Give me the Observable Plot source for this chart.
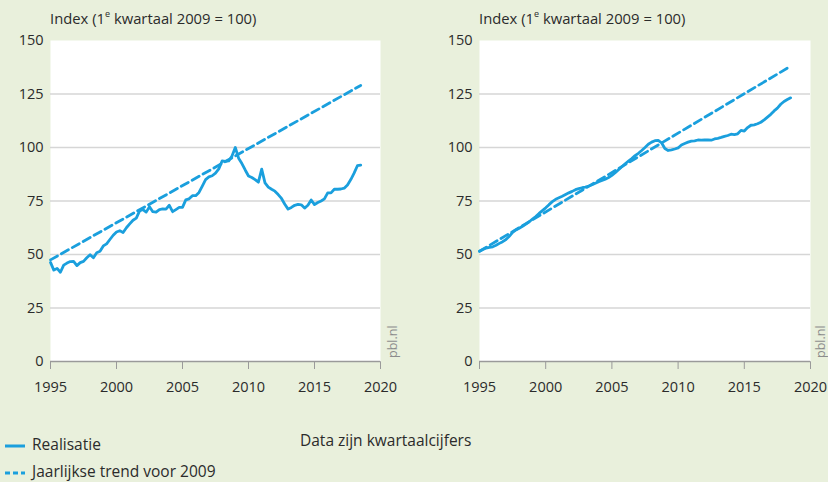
<!DOCTYPE html>
<html>
<head>
<meta charset="utf-8">
<script src="https://cdn.jsdelivr.net/npm/d3@7"></script>
<script src="https://cdn.jsdelivr.net/npm/@observablehq/plot@0.6"></script>
<style>
  html, body { margin: 0; padding: 0; }
  body { width: 828px; height: 482px; background: #e9f0dc; position: relative; overflow: hidden;
         font-family: "Open Sans", sans-serif; color: #2b2b2b; }
  .abs { position: absolute; white-space: nowrap; }
  .title { font-size: 14.8px; top: 7px; line-height: 22px; }
  .title sup { font-size: 9px; vertical-align: 7px; line-height: 0; }
  .pbl { font-size: 12.5px; color: #8c8c8c; transform-origin: left top; transform: rotate(-90deg); line-height: 14px; }
  .leg { font-size: 15.5px; line-height: 20px; }
  svg [aria-label^="x-axis"] path, svg [aria-label^="x-axis"] line { stroke: #9a9a9a; }
</style>
</head>
<body>
<div id="left" class="abs" style="left:0px; top:30px;"></div>
<div id="right" class="abs" style="left:414px; top:30px;"></div>

<div class="abs title" style="left:50px;">Index (1<sup>e</sup> kwartaal 2009 = 100)</div>
<div class="abs title" style="left:479px;">Index (1<sup>e</sup> kwartaal 2009 = 100)</div>
<div class="abs pbl" style="left:386px; top:358px;">pbl.nl</div>
<div class="abs pbl" style="left:814px; top:358px;">pbl.nl</div>

<svg class="abs" style="left:4px; top:440px;" width="24" height="40">
  <line x1="1" x2="21" y1="6" y2="6" stroke="#1a9fdd" stroke-width="3"></line>
  <line x1="1" x2="21" y1="33" y2="33" stroke="#1a9fdd" stroke-width="3" stroke-dasharray="5,3"></line>
</svg>
<div class="abs leg" style="left:32px; top:434px;">Realisatie</div>
<div class="abs leg" style="left:32px; top:461px;">Jaarlijkse trend voor 2009</div>
<div class="abs leg" style="left:300px; top:430px;">Data zijn kwartaalcijfers</div>

<script>
// Quarterly data, 1995 Q1 .. 2018 Q3 (95 quarters)
const startYear = 1995;
const realisatieLeft = [
  46.3, 42.7, 43.5, 41.7, 45.0, 46.0, 46.7, 46.8, 44.8, 46.2,
  46.8, 48.5, 49.9, 48.5, 50.8, 51.5, 54.0, 55.0, 57.0, 59.0,
  60.5, 61.1, 60.3, 62.5, 64.3, 66.0, 67.0, 70.4, 71.0, 69.8,
  72.3, 70.0, 69.8, 71.0, 71.3, 71.2, 73.0, 70.0, 71.0, 72.0,
  72.0, 75.5, 76.0, 77.5, 77.5, 79.0, 82.0, 85.0, 86.3, 86.8,
  88.0, 90.0, 93.7, 93.5, 93.7, 96.0, 100.0, 95.0, 92.5, 89.5,
  86.7, 86.0, 85.0, 83.8, 89.9, 83.5, 81.5, 80.5, 79.6, 78.0,
  76.2, 73.5, 71.2, 72.0, 73.0, 73.4, 73.2, 71.7, 73.0, 75.5,
  73.3, 74.3, 75.0, 76.0, 78.8, 78.8, 80.5, 80.5, 80.6, 81.0,
  82.5, 85.0, 88.0, 91.5, 91.8
];
const realisatieRight = [
  51.5, 52.3, 53.0, 53.3, 53.6, 54.3, 55.2, 56.0, 57.0, 58.5,
  60.3, 61.5, 62.3, 63.2, 64.2, 65.3, 66.5, 67.7, 69.2, 70.5,
  71.8, 73.3, 74.7, 75.8, 76.5, 77.2, 78.0, 78.8, 79.5, 80.3,
  80.8, 81.2, 81.5, 82.0, 82.6, 83.3, 84.0, 84.6, 85.2, 86.0,
  87.0, 88.2, 89.6, 91.0, 92.4, 93.6, 94.8, 96.2, 97.3, 98.6,
  100.0, 101.5, 102.5, 103.2, 103.3, 102.2, 99.5, 98.6, 98.9, 99.3,
  99.8, 101.2, 101.9, 102.5, 103.0, 103.1, 103.5, 103.4, 103.5, 103.6,
  103.4, 104.0, 104.3, 104.7, 105.2, 105.6, 106.2, 106.0, 106.4, 108.0,
  107.7, 109.3, 110.4, 110.6, 111.1, 111.8, 112.9, 114.2, 115.5, 117.1,
  118.4, 120.2, 121.5, 122.4, 123.2
];
// Trend lines (straight), start and end
const trendYears = [1995, 2018.5];
const trendLeft = [47.5, 129];
const trendRight = [51.5, 138];

const xTicks = [1995, 2000, 2005, 2010, 2015, 2020];
const yTicks = [0, 25, 50, 75, 100, 125, 150];
const gridValues = [25, 50, 75, 100, 125];

const blue = "#1a9fdd";

function chart(values, trend, marginLeft, marginRight) {
  const series = values.map((v, i) => ({t: startYear + i / 4, v}));
  const tr = trendYears.map((t, i) => ({t, v: trend[i]}));
  return Plot.plot({
    width: 414,
    height: 370,
    marginLeft, marginRight,
    marginTop: 10,
    marginBottom: 39,
    style: {fontFamily: "Open Sans, sans-serif", fontSize: "14.5px", color: "#2b2b2b", background: "transparent", overflow: "visible"},
    x: {domain: [1995, 2020], ticks: xTicks, tickFormat: d => String(d), tickSize: 8, tickPadding: 12, label: null},
    y: {domain: [0, 150], ticks: yTicks, tickSize: 0, tickPadding: 7, label: null},
    marks: [
      Plot.frame({fill: "white", stroke: null}),
      Plot.ruleY(gridValues, {stroke: "#d6d6d6", strokeWidth: 1.3}),
      Plot.ruleY([0], {stroke: "#9a9a9a", strokeWidth: 1.3}),
      Plot.line(tr, {x: "t", y: "v", stroke: blue, strokeWidth: 2.8, strokeDasharray: "8,4.5"}),
      Plot.line(series, {x: "t", y: "v", stroke: blue, strokeWidth: 2.8, strokeLinejoin: "round"})
    ]
  });
}

document.getElementById("left").appendChild(chart(realisatieLeft, trendLeft, 50, 34));
document.getElementById("right").appendChild(chart(realisatieRight, trendRight, 65, 18));
</script>
</body>
</html>
